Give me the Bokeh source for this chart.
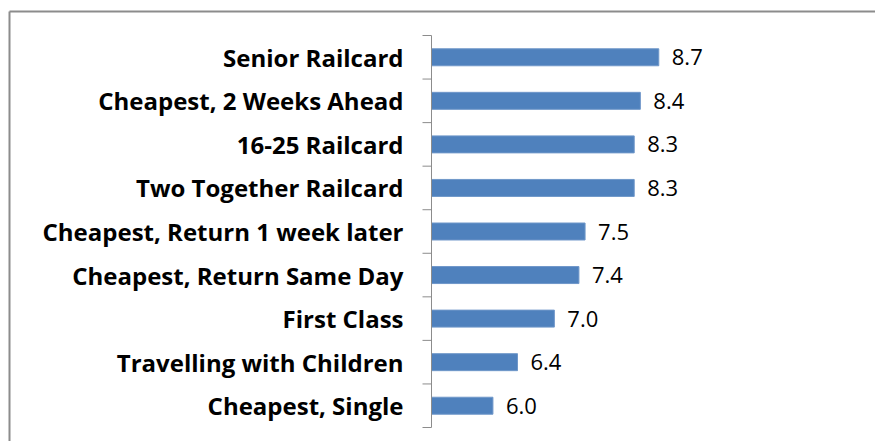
import math
from bokeh.plotting import figure
from bokeh.models import ColumnDataSource, Range1d
from bokeh.core.properties import value
from bokeh.embed import file_html
from bokeh.resources import INLINE

categories = [
    "Senior Railcard",
    "Cheapest, 2 Weeks Ahead",
    "16-25 Railcard",
    "Two Together Railcard",
    "Cheapest, Return 1 week later",
    "Cheapest, Return Same Day",
    "First Class",
    "Travelling with Children",
    "Cheapest, Single",
]
scores = [8.7, 8.4, 8.3, 8.3, 7.5, 7.4, 7.0, 6.4, 6.0]
x_start = 5
x_end = 12

# ---- layout (pixels) ----
W, H = 875, 441
AXIS_PX = 431          # x pixel of the value axis start
END_PX = 861           # x pixel of x_end
TOP_PX, BOT_PX = 35, 427   # y pixels of the category band edges
BORDER_L_PX, BORDER_T_PX = 9, 11

n = len(categories)
ppx = (END_PX - AXIS_PX) / (x_end - x_start)
ppy = (BOT_PX - TOP_PX) / n
x_lo = x_start - AXIS_PX / ppx
x_hi = x_start + (W - AXIS_PX) / ppx
y_lo = -0.5 - (H - BOT_PX) / ppy
y_hi = n - 0.5 + TOP_PX / ppy
xr = Range1d(x_lo, x_hi)
yr = Range1d(y_lo, y_hi)

ypos = [n - 1 - i for i in range(n)]
src = ColumnDataSource(dict(
    y=ypos,
    right=scores,
    left=[x_start] * n,
    label=[f"{v:.1f}" for v in scores],
    cat=categories,
    x0=[x_start] * n,
))

p = figure(
    width=W, height=H, x_range=xr, y_range=yr,
    output_backend="svg", toolbar_location=None,
    min_border=0,
)
p.outline_line_color = None
p.grid.visible = False
p.axis.visible = False

# chart-area border (left and top)
bx = x_start - (AXIS_PX - BORDER_L_PX) / ppx
by = n - 0.5 + (TOP_PX - BORDER_T_PX) / ppy
p.segment(x0=[bx, bx], y0=[y_lo, by], x1=[bx, x_hi], y1=[by, by],
          line_color="#8c8c8c", line_width=2)

p.hbar(y="y", left="left", right="right", height=0.39, source=src,
       fill_color="#4F81BD", line_color="#6f97c9", line_width=1)

# category axis line and boundary ticks
p.segment(x0=[x_start], x1=[x_start], y0=[-0.5], y1=[n - 0.5],
          line_color="#8c8c8c", line_width=1)
p.ray(x=[x_start] * (n + 1), y=[i - 0.5 for i in range(n + 1)], length=9,
      length_units="screen", angle=math.pi, line_color="#8c8c8c", line_width=1)

# category labels
p.text(x="x0", y="y", text="cat", source=src, x_offset=-28,
       text_align="right", text_baseline="middle",
       text_font=value("Open Sans"), text_font_style="bold",
       text_font_size="24px", text_color="#000000")

# value labels
p.text(x="right", y="y", text="label", source=src, x_offset=13,
       text_align="left", text_baseline="middle",
       text_font=value("Open Sans"), text_font_size="22px", text_color="#000000")

open("out.html", "w").write(file_html(p, INLINE))
